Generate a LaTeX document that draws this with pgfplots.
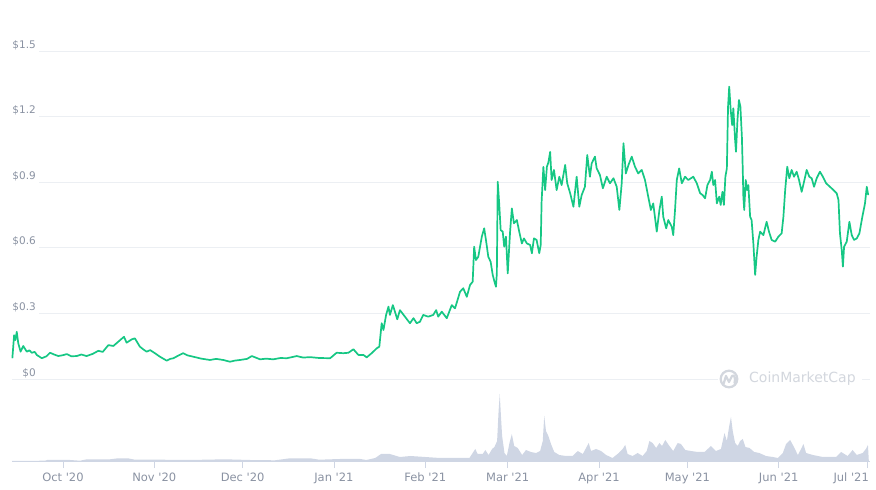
\documentclass[border=0pt]{standalone}
\usepackage{pgfplots}
\pgfplotsset{compat=1.18}
\usepackage{fontspec}
\setmainfont{DejaVu Sans}
\definecolor{cmcgreen}{HTML}{16C784}
\definecolor{lbl}{HTML}{8A92A2}
\definecolor{gridc}{HTML}{ECEFF3}
\definecolor{volc}{HTML}{CFD6E4}
\definecolor{wm}{HTML}{D3D7DE}
\begin{document}
\begin{tikzpicture}
\path[use as bounding box] (0pt,0pt) rectangle (876pt,490pt);
% ---------------- volume ----------------
\begin{axis}[
  at={(12pt,29pt)}, anchor=south west,
  scale only axis, width=858pt, height=70pt,
  xmin=-17.3, xmax=274.0, ymin=0, ymax=70,
  axis x line*=bottom, axis y line=none,
  x axis line style={draw=volc, line width=0.8pt, -},
  xtick={0,31,61,92,123,151,182,212,243},
  xticklabels={Oct \textquotesingle20,Nov \textquotesingle20,Dec \textquotesingle20,Jan \textquotesingle21,Feb \textquotesingle21,Mar \textquotesingle21,Apr \textquotesingle21,May \textquotesingle21,Jun \textquotesingle21},
  extra x ticks={273},
  extra x tick labels={Jul \textquotesingle21},
  extra x tick style={xticklabel style={anchor=base east, xshift=2pt}},
  tick align=outside, major tick length=7pt,
  tick style={draw=volc, line width=0.6pt},
  xticklabel style={font=\fontsize{11.5}{13}\selectfont, text=lbl, anchor=base, inner sep=0pt, yshift=-13pt},
  ytick=\empty,
]
\addplot[fill=volc, draw=none] coordinates {
(-17.3,0) (-6.1,0.3) (-5.4,1) (2.4,1) (5.8,0.3) (8.1,1.7) (16,1.7) (18.7,2.7) (22,2.7) (24.4,1.3)
(33,1.3) (43,1) (55,1.7) (63.5,1) (72,0.7) (77,2.7) (84,2.7) (87,1.3) (94,2) (101,2) (103,1)
(106,3) (108,7) (111,7) (114.4,4) (118,5) (123,4) (128,3) (132.3,3) (138,3) (139.1,8) (140,12)
(140.8,7) (142.5,7) (143.4,11) (144.5,6) (145.7,12) (146.5,14) (147.4,20) (147.9,50) (148.3,67)
(148.7,45) (149.1,25) (149.9,8) (150.7,5) (151.6,18) (152.4,27) (153.2,15) (154.4,13) (155.9,6)
(157.2,11) (158.9,9) (160.6,8) (162,10) (162.9,20) (163.4,45) (164,30) (164.8,25) (165.7,17)
(166.8,9) (168.5,6) (170.8,5) (173,5) (174.8,10) (176.5,7) (178.5,18) (179.3,10) (181,12)
(182.7,10) (184.4,6) (186.6,3) (188.7,8) (190,12) (190.9,16) (191.7,7) (193.4,5) (195.1,8)
(196.8,5) (198.2,10) (199.1,20) (200.2,18) (201.4,13) (202.5,18) (203.4,15) (204.5,21) (205.9,15)
(207.2,10) (208.7,18) (209.8,17) (211.3,11) (213.2,10) (215.5,9) (217.8,9) (218.9,12) (220,15)
(221.7,10) (223.4,12) (224.6,28) (225.4,20) (226.2,35) (226.8,44) (227.4,30) (228.2,18) (229.1,15)
(229.9,20) (230.8,22) (231.7,14) (233.1,13) (234.7,9) (236.4,8) (238.7,5) (241,4) (242.7,3)
(244.4,8) (245.5,17) (246.9,21) (248,15) (249.5,6) (250.6,12) (251.4,17) (252.3,8) (254.6,6)
(258,4) (262.5,4) (264.2,9) (265.3,7) (266.4,5) (268.1,11) (269.5,6) (271.5,8) (272.6,12) (273.3,16)
(273.6,0)
} \closedcycle;
\end{axis}
% ---------------- price ----------------
\begin{axis}[
  at={(39pt,111pt)}, anchor=south west,
  scale only axis, width=831pt, height=328pt,
  xmin=-8.15, xmax=274.0, ymin=0, ymax=1.5,
  clip=false,
  axis line style={draw=none},
  xtick=\empty,
  ytick={0,0.3,0.6,0.9,1.2,1.5},
  yticklabels={\$0,\$0.3,\$0.6,\$0.9,\$1.2,\$1.5},
  major tick length=0pt,
  ymajorgrids, grid style={draw=gridc, line width=0.8pt},
  yticklabel style={font=\fontsize{10.5}{12}\selectfont, text=lbl, anchor=south east, inner sep=0pt, xshift=-3pt, yshift=1.2pt},
]
\addplot[draw=gridc, line width=0.8pt] coordinates {(-17.3,0) (274.0,0)};
\addplot[cmcgreen, line width=1.7pt, line join=round] coordinates {
(-17.2,0.095) (-16.6,0.20) (-16.2,0.178) (-15.7,0.216) (-15.2,0.164) (-14.4,0.125) (-13.5,0.151)
(-12.3,0.125) (-11.4,0.131) (-10.6,0.12) (-9.6,0.124) (-8.9,0.11) (-7.2,0.095) (-5.6,0.104) (-4.4,0.12) (-3.0,0.112) (-1.6,0.105) (0.0,0.109) (1.3,0.114) (2.8,0.104) (4.7,0.105)
(6.2,0.112) (8.0,0.105) (10.1,0.115) (12.0,0.129) (13.5,0.124) (15.4,0.155) (17.1,0.151) (19.4,0.178) (20.7,0.193) (21.6,0.166) (23.3,0.181)
(24.4,0.186) (26.1,0.148) (27.2,0.136) (28.4,0.125) (29.6,0.132) (31.2,0.118) (32.9,0.102) (35.2,0.084) (36.4,0.092) (37.5,0.095) (39.0,0.106) (40.8,0.118)
(42.3,0.108) (44.2,0.102) (47.0,0.093) (49.9,0.087) (52.0,0.092) (54.4,0.087) (56.7,0.079) (58.3,0.084) (60.1,0.087) (62.5,0.092) (64.1,0.105) (66.9,0.09) (69.0,0.093) (71.4,0.09)
(73.8,0.096) (76.0,0.095) (79.4,0.105) (81.5,0.098) (83.9,0.1) (87.0,0.096) (90.7,0.095) (92.9,0.12) (95.2,0.118) (96.9,0.12) (98.6,0.136)
(100.3,0.11) (102.0,0.11) (103.1,0.099) (104.8,0.118) (106.5,0.14) (107.4,0.148) (108.2,0.255)
(108.8,0.224) (109.7,0.293) (110.5,0.331) (111.0,0.293) (112.0,0.338) (112.7,0.308) (113.5,0.273)
(114.4,0.315) (116.1,0.285) (117.8,0.255) (119.0,0.278) (120.1,0.255) (121.2,0.262) (122.3,0.293)
(124.0,0.285) (125.7,0.293) (126.7,0.315) (127.4,0.285) (128.6,0.308) (130.3,0.278) (132.0,0.338)
(133.1,0.323) (134.8,0.399) (135.9,0.415) (137.1,0.376) (138.2,0.43) (139.1,0.445) (139.6,0.605)
(140.2,0.544) (141.0,0.559) (142.2,0.651) (143.0,0.689) (143.6,0.636) (144.4,0.559) (145.2,0.536)
(145.9,0.476) (146.5,0.445) (147.0,0.422) (147.3,0.483) (147.6,0.902) (148.1,0.803) (148.6,0.681)
(149.3,0.674) (149.8,0.605) (150.4,0.651) (151.0,0.483) (151.8,0.674) (152.4,0.78) (153.1,0.712)
(154.1,0.727) (154.9,0.674) (155.8,0.62) (156.5,0.643) (157.5,0.62) (158.6,0.613) (159.2,0.575)
(159.9,0.643) (160.8,0.636) (161.7,0.575) (162.2,0.613) (162.5,0.811) (163.1,0.97) (163.7,0.864)
(164.3,0.971) (164.8,0.99) (165.4,1.039) (165.9,0.91) (166.7,0.956) (167.6,0.864) (168.5,0.925)
(169.3,0.887) (170.5,0.979) (171.2,0.895) (172.2,0.849) (173.3,0.788) (174.4,0.925) (175.3,0.788)
(176.1,0.841) (177.2,0.879) (178.0,1.024) (178.9,0.925) (179.5,0.986) (180.6,1.017) (181.2,0.963)
(182.3,0.933) (183.3,0.872) (184.6,0.925) (185.7,0.895) (186.9,0.918) (188.0,0.879) (188.9,0.773)
(189.7,0.895) (190.3,1.078) (191.1,0.94) (192.0,0.979) (193.1,1.017) (194.2,0.971) (195.3,0.94)
(196.5,0.956) (197.6,0.91) (198.7,0.834) (199.6,0.773) (200.4,0.803) (201.6,0.674) (202.5,0.773)
(203.3,0.834) (203.8,0.742) (204.8,0.689) (205.5,0.727) (206.7,0.696) (207.2,0.658) (207.8,0.773)
(208.4,0.91) (209.2,0.963) (210.1,0.895) (211.2,0.925) (212.3,0.91) (214.0,0.925) (215.2,0.895)
(216.3,0.85) (217.2,0.841) (218.0,0.826) (218.8,0.887) (219.7,0.91) (220.3,0.948) (220.8,0.887)
(221.4,0.91) (222.0,0.803) (222.8,0.834) (223.3,0.796) (223.9,0.856) (224.4,0.796) (224.9,0.925)
(225.4,0.963) (225.8,1.245) (226.2,1.337) (226.7,1.23) (227.2,1.161) (227.6,1.238) (228.2,1.093)
(228.5,1.039) (229.0,1.184) (229.5,1.276) (230.0,1.245) (230.5,1.108) (230.8,0.956) (231.0,0.834)
(231.3,0.773) (231.8,0.91) (232.3,0.864) (232.7,0.887) (233.3,0.742) (233.8,0.727) (234.4,0.62)
(235.0,0.476) (235.5,0.559) (236.1,0.636) (236.7,0.674) (237.8,0.658) (238.9,0.719) (239.7,0.674)
(240.6,0.636) (241.8,0.628) (242.9,0.651) (244.0,0.666) (244.6,0.742) (245.2,0.864) (245.9,0.971)
(246.6,0.918) (247.4,0.956) (248.2,0.925) (249.1,0.948) (249.9,0.91) (250.8,0.856) (251.6,0.902)
(252.5,0.956) (253.4,0.925) (254.2,0.918) (255.0,0.879) (255.9,0.918) (257.0,0.948) (258.0,0.925)
(259.1,0.895) (260.4,0.879) (261.6,0.864) (262.7,0.849) (263.3,0.818) (263.8,0.666) (264.4,0.59)
(264.8,0.514) (265.2,0.605) (266.1,0.628) (267.0,0.719) (267.8,0.658) (268.6,0.636) (269.5,0.643)
(270.4,0.666) (271.4,0.742) (272.3,0.803) (272.9,0.879) (273.4,0.841)
};
\end{axis}
% ---------------- watermark ----------------
\fill[white] (718pt,101pt) rectangle (862pt,121pt);
\draw[wm, line width=2.2pt] (729pt,111pt) circle (8.3pt);
\draw[wm, line width=2.2pt, line join=round, line cap=round] (723.5pt,106pt) -- (726pt,114pt) -- (729pt,108pt) -- (732pt,114pt) .. controls (734pt,116pt) and (736pt,112pt) .. (734.5pt,107pt);
\node[anchor=west, inner sep=0pt, text=wm, font=\fontsize{14}{16}\selectfont] at (749pt,111pt) {CoinMarketCap};
\end{tikzpicture}
\end{document}
